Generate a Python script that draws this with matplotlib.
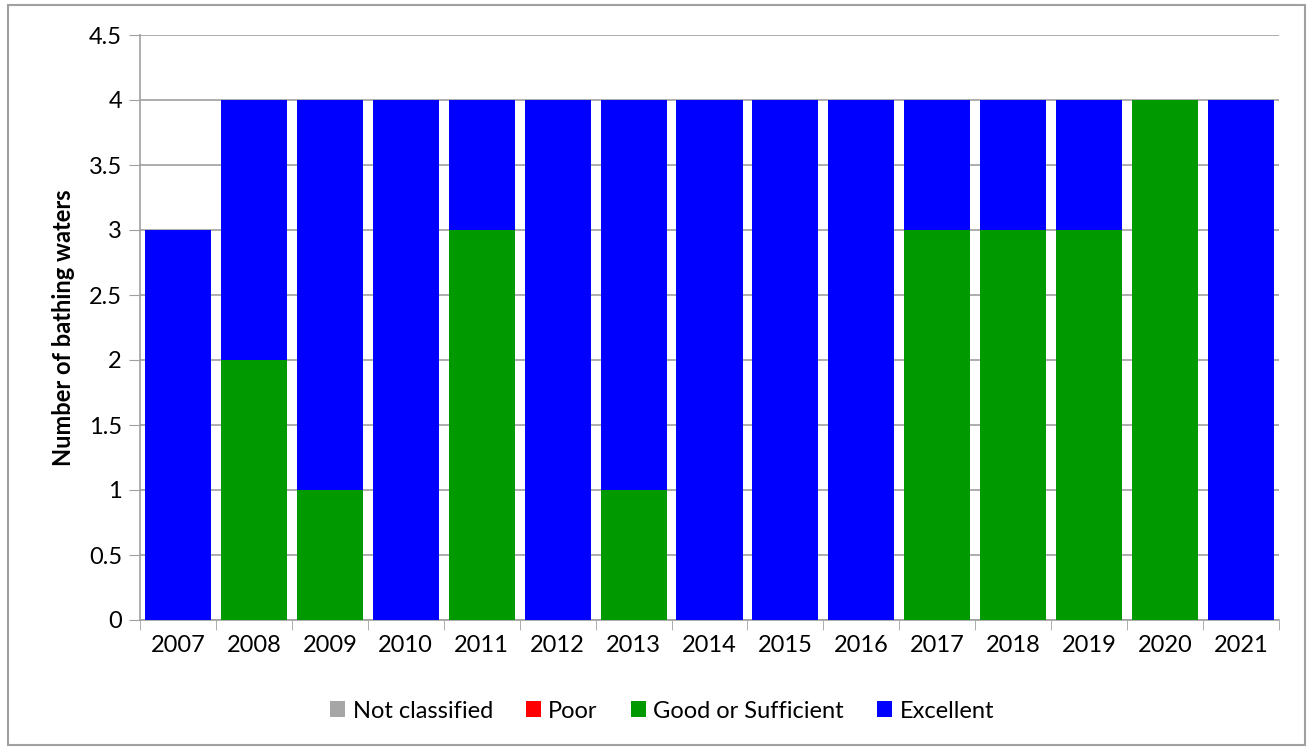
import numpy as np
import matplotlib.pyplot as plt
from matplotlib.patches import Rectangle

years = [str(y) for y in range(2007, 2022)]
not_classified = [0] * 15
poor = [0] * 15
good = [0, 2, 1, 0, 3, 0, 1, 0, 0, 0, 3, 3, 3, 4, 0]
excellent = [3, 2, 3, 4, 1, 4, 3, 4, 4, 4, 1, 1, 1, 0, 4]

plt.rcParams['font.family'] = ['Lato', 'DejaVu Sans']

fig = plt.figure(figsize=(13.09, 7.47), dpi=100)
ax = fig.add_axes([140 / 1309, 1 - 620 / 747, (1279 - 140) / 1309, (620 - 35) / 747])

x = np.arange(len(years))
w = 0.87
bottom = np.zeros(len(years))
series = [("Not classified", not_classified, "#A6A6A6"),
          ("Poor", poor, "#FF0000"),
          ("Good or Sufficient", good, "#009900"),
          ("Excellent", excellent, "#0000FF")]
for name, vals, col in series:
    vals = np.array(vals, dtype=float)
    ax.bar(x, vals, w, bottom=bottom, color=col, label=name, zorder=3)
    bottom += vals

ax.set_xlim(-0.5, len(years) - 0.5)
ax.set_ylim(0, 4.5)
ax.set_yticks(np.arange(0, 4.51, 0.5))
ax.set_yticklabels(["0", "0.5", "1", "1.5", "2", "2.5", "3", "3.5", "4", "4.5"])
ax.set_xticks(x)
ax.set_xticklabels(years)
ax.set_xticks(np.arange(-0.5, len(years), 1), minor=True)
ax.tick_params(axis='x', which='major', length=0, labelsize=17, pad=11)
ax.tick_params(axis='x', which='minor', length=7, color='#A0A0A0', direction='out')
ax.tick_params(axis='y', length=8, color='#A0A0A0', labelsize=17, pad=5)
ax.grid(axis='y', color='#A0A0A0', linewidth=1.2, zorder=0)
for s in ['top', 'right']:
    ax.spines[s].set_visible(False)
for s in ['left', 'bottom']:
    ax.spines[s].set_color('#A0A0A0')
    ax.spines[s].set_linewidth(1.2)
ax.set_ylabel("Number of bathing waters", fontsize=17, fontweight='bold', labelpad=10)

fig.legend(loc='center', bbox_to_anchor=(662 / 1309, 1 - 711 / 747), ncol=4,
           frameon=False, fontsize=17, handlelength=0.65, handleheight=0.65,
           handletextpad=0.3, columnspacing=1.4)

fig.patches.append(Rectangle((8 / 1309, 2 / 747), 1297 / 1309, 740 / 747,
                             transform=fig.transFigure, fill=False,
                             edgecolor='#A0A0A0', linewidth=1.5))

fig.savefig("out.png", dpi=100)
